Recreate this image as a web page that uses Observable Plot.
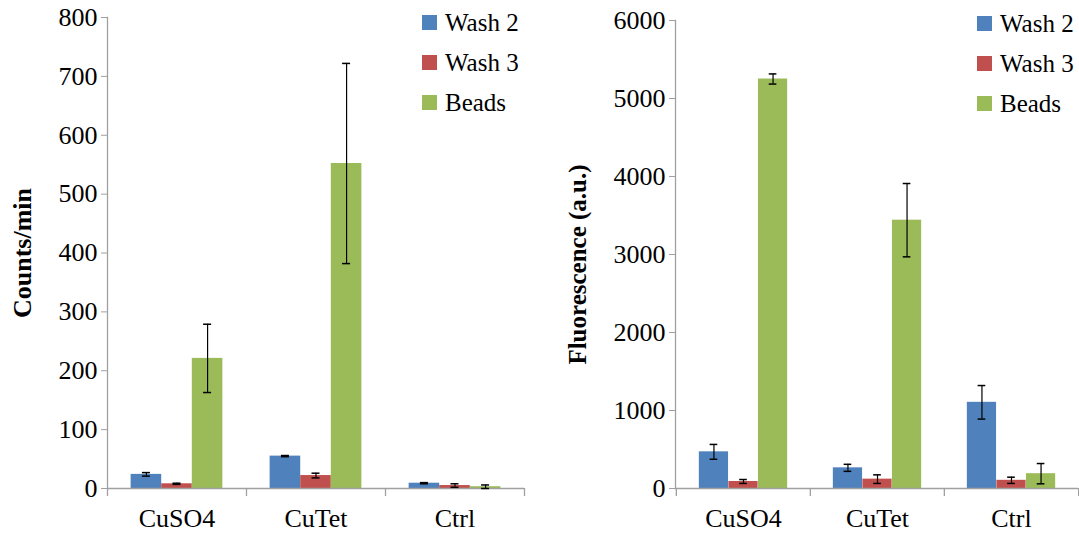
<!DOCTYPE html>
<html><head><meta charset="utf-8">
<script src="https://cdn.jsdelivr.net/npm/d3@7"></script>
<script src="https://cdn.jsdelivr.net/npm/@observablehq/plot@0.6"></script>
<style>
body{margin:0;background:#fff;}
#wrap{position:relative;width:1079px;height:540px;font-family:"Liberation Serif","Times New Roman",serif;overflow:hidden;}
.panel{position:absolute;top:0;}
.legend{position:absolute;font-size:25px;color:#000;line-height:1;}
.legend .row{display:flex;align-items:center;height:40px;}
.legend .sw{width:15px;height:15px;margin-right:8px;display:inline-block;}
</style></head><body><div id="wrap"></div>
<script>
// ---- data ----
const categories = ["CuSO4", "CuTet", "Ctrl"];
const seriesNames = ["Wash 2", "Wash 3", "Beads"];
const seriesColors = ["#4F81BD", "#C0504D", "#9BBB59"];

// Left panel: Counts/min
const countsWash2 = [24, 55, 9];
const countsWash3 = [8, 22, 5];
const countsBeads = [221, 552, 3];
const countsWash2Err = [3, 1, 1];
const countsWash3Err = [1, 4, 3];
const countsBeadsErr = [58, 170, 3];
const countsTicks = [0, 100, 200, 300, 400, 500, 600, 700, 800];

// Right panel: Fluorescence (a.u.)
const fluorWash2 = [470, 265, 1105];
const fluorWash3 = [90, 120, 105];
const fluorBeads = [5250, 3440, 190];
const fluorWash2Err = [95, 45, 215];
const fluorWash3Err = [25, 55, 40];
const fluorBeadsErr = [65, 470, 130];
const fluorTicks = [0, 1000, 2000, 3000, 4000, 5000, 6000];

const axisGray = "#a0a0a0";
const FONT = '"Liberation Serif","Times New Roman",serif';

function makeChart({width, ml, mr, mt, mb, ticks, values, errors, title, titleX, titleDy, titleSize}) {
  const height = 540;
  const band = (width - ml - mr) / categories.length;
  const groupW = band * 0.66, barW = groupW / 3;
  const marks = [];
  seriesNames.forEach((s, i) => {
    const rows = categories.map((c, j) => ({cat: c, v: values[i][j], e: errors[i][j]}));
    const left = (band - groupW) / 2 + i * barW;
    marks.push(Plot.barY(rows, {x: "cat", y: "v", fill: seriesColors[i], insetLeft: left, insetRight: band - left - barW}));
  });
  marks.push(Plot.ruleY([0], {stroke: axisGray, strokeWidth: 1.3}));
  marks.push(Plot.frame({anchor: "left", stroke: axisGray, strokeWidth: 1.3}));
  marks.push(Plot.ruleX(categories, {x: d => d, dx: -band / 2, y1: 0, y2: 0, insetBottom: -8, stroke: axisGray, strokeWidth: 1.3}));
  marks.push(Plot.ruleX(categories.slice(-1), {x: d => d, dx: band / 2, y1: 0, y2: 0, insetBottom: -8, stroke: axisGray, strokeWidth: 1.3}));
  seriesNames.forEach((s, i) => {
    const rows = categories.map((c, j) => ({cat: c, v: values[i][j], e: errors[i][j]}));
    const dx = (i - 1) * barW;
    marks.push(Plot.ruleX(rows, {x: "cat", y1: d => d.v - d.e, y2: d => d.v + d.e, dx, stroke: "#000", strokeWidth: 1.2}));
    marks.push(Plot.tickY(rows, {x: "cat", y: d => d.v + d.e, dx, insetLeft: band / 2 - 4, insetRight: band / 2 - 4, stroke: "#000", strokeWidth: 1.5}));
    marks.push(Plot.tickY(rows, {x: "cat", y: d => d.v - d.e, dx, insetLeft: band / 2 - 4, insetRight: band / 2 - 4, stroke: "#000", strokeWidth: 1.5}));
  });
  marks.push(Plot.axisY({ticks, tickSize: 6, tickPadding: 4, fontSize: 26, stroke: axisGray, label: null, tickFormat: d => String(d)}));
  marks.push(Plot.axisX({tickSize: 0, tickPadding: 20, fontSize: 26, label: null}));
  marks.push(Plot.text([title], {text: d => d, frameAnchor: "left", textAnchor: "middle", rotate: -90, dx: -(ml - titleX), dy: titleDy, fontWeight: "bold", fontSize: titleSize, fill: "#000"}));
  return Plot.plot({
    width, height,
    marginLeft: ml, marginRight: mr, marginTop: mt, marginBottom: mb,
    x: {type: "band", domain: categories, padding: 0},
    y: {domain: [0, ticks[ticks.length - 1]]},
    style: {fontFamily: FONT, color: "#000", background: "transparent", overflow: "visible"},
    marks
  });
}

function legend(left, top) {
  const div = document.createElement("div");
  div.className = "legend";
  div.style.left = left + "px";
  div.style.top = top + "px";
  seriesNames.forEach((s, i) => {
    const row = document.createElement("div");
    row.className = "row";
    const sw = document.createElement("span");
    sw.className = "sw";
    sw.style.background = seriesColors[i];
    row.appendChild(sw);
    row.appendChild(document.createTextNode(s));
    div.appendChild(row);
  });
  return div;
}

const wrap = document.getElementById("wrap");
const p1 = document.createElement("div");
p1.className = "panel"; p1.style.left = "0px";
p1.appendChild(makeChart({
  width: 540, ml: 107, mr: 16, mt: 17, mb: 52, ticks: countsTicks,
  values: [countsWash2, countsWash3, countsBeads],
  errors: [countsWash2Err, countsWash3Err, countsBeadsErr],
  title: "Counts/min", titleX: 22, titleDy: 0, titleSize: 26
}));
wrap.appendChild(p1);
const p2 = document.createElement("div");
p2.className = "panel"; p2.style.left = "540px";
p2.appendChild(makeChart({
  width: 539, ml: 135, mr: 1, mt: 20, mb: 52, ticks: fluorTicks,
  values: [fluorWash2, fluorWash3, fluorBeads],
  errors: [fluorWash2Err, fluorWash3Err, fluorBeadsErr],
  title: "Fluorescence (a.u.)", titleX: 37, titleDy: 10, titleSize: 25
}));
wrap.appendChild(p2);
wrap.appendChild(legend(422, 2));
wrap.appendChild(legend(977, 3));
</script></body></html>
